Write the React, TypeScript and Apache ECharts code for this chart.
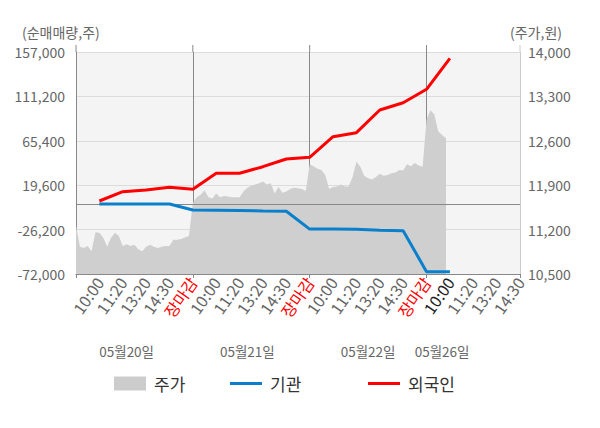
import React, { useEffect, useRef } from 'react';
import * as echarts from 'echarts';

// ---- data ----
const slotLabels = ['10:00', '11:20', '13:20', '14:30', '장마감'];
const dayLabels = ['05월20일', '05월21일', '05월22일', '05월26일'];
const seriesNames = ['주가', '기관', '외국인'];

// price (원), sampled 6 points per label slot
const priceDay1 = [11260, 10930, 10910, 10940, 10860, 11160, 11150, 11070, 10930, 11070, 11150, 11100, 10940, 10970, 10940, 10960, 10890, 10860, 10930, 10960, 10930, 10910, 10930, 10940, 10940, 11040, 11040, 11050, 11080, 11100];
const priceDay2 = [11620, 11710, 11750, 11820, 11710, 11690, 11770, 11710, 11730, 11720, 11710, 11710, 11710, 11800, 11860, 11890, 11910, 11930, 11960, 11910, 11930, 11770, 11870, 11780, 11800, 11840, 11860, 11850, 11840, 11810];
const priceDay3 = [12230, 12200, 12160, 12140, 12060, 11840, 11870, 11880, 11910, 11880, 11880, 12030, 12270, 12190, 12050, 12010, 11990, 12030, 12080, 12050, 12060, 12090, 12100, 12140, 12130, 12230, 12200, 12250, 12210, 12190];
const priceDay4 = [12930, 13080, 13020, 12750, 12690, 12640];

// cumulative net buying (주), one value per label slot from day-1 10:00
const foreignNet = [3300, 12900, 14600, 17600, 15400, 31900, 31900, 38700, 46600, 48400, 69600, 73800, 97200, 104700, 118500, 150500];
const instNet = [300, 300, 300, 200, -6000, -6300, -6600, -7000, -7300, -25700, -25700, -25800, -26900, -27300, -69600, -69600];

const leftMin = -72000;
const leftMax = 157000;
const leftInterval = 45800;
const rightMin = 10500;
const rightMax = 14000;
const rightInterval = 700;

// ---- derived ----
const PTS = 6;
const SLOTS_PER_DAY = 5;
const TOTAL_SLOTS = 19;
const N = TOTAL_SLOTS * PTS + 1;
const categories = Array.from({ length: N }, (_, i) => String(i));
const priceAll: (number | null)[] = [...priceDay1, ...priceDay2, ...priceDay3, ...priceDay4];
while (priceAll.length < N) priceAll.push(null);
const toSlotSeries = (vals: number[]) => {
  const arr: (number | null)[] = new Array(N).fill(null);
  vals.forEach((v, j) => { arr[(j + 1) * PTS] = v; });
  return arr;
};
const foreignData = toSlotSeries(foreignNet);
const instData = toSlotSeries(instNet);
const dayLen = PTS * SLOTS_PER_DAY;
const dateLabelIdx = [13, 44, 75, 94];

const FONT = '"Noto Sans CJK KR", "Noto Sans", sans-serif';

const slotLabelOf = (i: number) => {
  if (i === 0 || i % PTS !== 0) return '';
  const s = i / PTS;
  return slotLabels[(s - 1) % SLOTS_PER_DAY];
};

export default function App() {
  const ref = useRef<HTMLDivElement>(null);
  useEffect(() => {
    if (!ref.current) return;
    const chart = echarts.init(ref.current, undefined, { renderer: 'svg' });
    const legendBase = {
      top: 375,
      padding: 0,
      itemWidth: 32,
      textStyle: { fontSize: 17, color: '#333', fontFamily: FONT, padding: [0, 0, 0, 3] },
      selectedMode: false,
    };
    chart.setOption({
      animation: false,
      textStyle: { fontFamily: FONT },
      grid: {
        left: 76, right: 80, top: 52, bottom: 154,
        show: true, backgroundColor: '#f4f4f4', borderWidth: 0,
      },
      legend: [
        { ...legendBase, left: 114, itemHeight: 14, data: [{ name: seriesNames[0], icon: 'rect' }] },
        { ...legendBase, left: 230, itemHeight: 3, data: [{ name: seriesNames[1], icon: 'rect' }] },
        { ...legendBase, left: 368, itemHeight: 3, data: [{ name: seriesNames[2], icon: 'rect' }] },
      ],
      xAxis: [
        {
          type: 'category',
          data: categories,
          boundaryGap: false,
          axisLine: { onZero: false, lineStyle: { color: '#888' } },
          axisTick: {
            show: true, length: 4, lineStyle: { color: '#888' },
            interval: (i: number) => i % dayLen === 0 || i === N - 1,
          },
          splitLine: {
            show: true, lineStyle: { color: '#888', width: 1 },
            interval: (i: number) => i % dayLen === 0 && i > 0 && i < N - 1,
          },
          axisLabel: {
            interval: (i: number) => slotLabelOf(i) !== '',
            formatter: (v: string) => slotLabelOf(Number(v)),
            rotate: 55,
            margin: 5,
            fontSize: 16,
            fontFamily: FONT,
            color: (v: string) => {
              const i = Number(v);
              const lab = slotLabelOf(i);
              if (lab === slotLabels[4]) return '#ff0000';
              if (i === 3 * dayLen + PTS) return '#222';
              return '#666';
            },
          },
        },
        {
          type: 'category',
          data: categories,
          boundaryGap: false,
          position: 'bottom',
          axisLine: { show: false },
          axisTick: { show: false },
          splitLine: { show: false },
          axisLabel: {
            interval: (i: number) => dateLabelIdx.includes(i),
            formatter: (v: string) => {
              const k = dateLabelIdx.indexOf(Number(v));
              return k >= 0 ? dayLabels[k] : '';
            },
            margin: 70,
            fontSize: 13.5,
            color: '#666',
            fontFamily: FONT,
          },
        },
      ],
      yAxis: [
        {
          type: 'value',
          min: leftMin, max: leftMax, interval: leftInterval,
          axisLine: { show: true, lineStyle: { color: '#888' } },
          axisTick: { show: false },
          splitLine: { show: true, lineStyle: { color: '#dcdcdc', width: 1 } },
          axisLabel: {
            margin: 11, fontSize: 14, color: '#666', fontFamily: FONT,
            formatter: (v: number) => v.toLocaleString('en-US'),
          },
        },
        {
          type: 'value',
          min: rightMin, max: rightMax, interval: rightInterval,
          axisLine: { show: true, lineStyle: { color: '#cccccc' } },
          axisTick: { show: false },
          splitLine: { show: false },
          axisLabel: {
            margin: 8, fontSize: 14, color: '#666', fontFamily: FONT,
            formatter: (v: number) => v.toLocaleString('en-US'),
          },
        },
      ],
      series: [
        {
          name: seriesNames[0],
          type: 'line',
          xAxisIndex: 0,
          yAxisIndex: 1,
          data: priceAll,
          showSymbol: false,
          symbol: 'none',
          lineStyle: { width: 0, color: '#cccccc' },
          itemStyle: { color: '#cccccc' },
          areaStyle: { color: '#cfcfcf', opacity: 1 },
          z: 1,
        },
        {
          name: seriesNames[1],
          type: 'line',
          xAxisIndex: 0,
          yAxisIndex: 0,
          data: instData,
          connectNulls: true,
          showSymbol: false,
          symbol: 'none',
          lineStyle: { width: 3, color: '#0a80cc' },
          itemStyle: { color: '#0a80cc' },
          markLine: {
            silent: true,
            symbol: 'none',
            label: { show: false },
            lineStyle: { color: '#888', width: 1, type: 'solid' },
            data: [{ yAxis: 0 }],
            z: 2,
          },
          z: 3,
        },
        {
          name: seriesNames[2],
          type: 'line',
          xAxisIndex: 0,
          yAxisIndex: 0,
          data: foreignData,
          connectNulls: true,
          showSymbol: false,
          symbol: 'none',
          lineStyle: { width: 3, color: '#ff0000' },
          itemStyle: { color: '#ff0000' },
          z: 4,
        },
      ],
    });

    // extension of vertical lines above the plot area, positioned from the axes
    const topY = chart.convertToPixel({ yAxisIndex: 0 }, leftMax) as number;
    const ext = 7;
    const vIdx = [0, dayLen, 2 * dayLen, 3 * dayLen];
    const lines: any[] = vIdx.map((i) => {
      const x = chart.convertToPixel({ xAxisIndex: 0 }, i) as number;
      return {
        type: 'line', silent: true,
        shape: { x1: x, y1: topY - ext, x2: x, y2: topY },
        style: { stroke: '#888', lineWidth: 1 },
      };
    });
    const xr = chart.convertToPixel({ xAxisIndex: 0 }, N - 1) as number;
    lines.push({
      type: 'line', silent: true,
      shape: { x1: xr, y1: topY - ext, x2: xr, y2: topY },
      style: { stroke: '#cccccc', lineWidth: 1 },
    });
    chart.setOption({
      graphic: [
        {
          type: 'text', left: 22, top: 25,
          style: { text: '(순매매량,주)', fill: '#666', font: `14px ${FONT}` },
        },
        {
          type: 'text', right: 38, top: 25,
          style: { text: '(주가,원)', fill: '#666', font: `14px ${FONT}` },
        },
        ...lines,
      ],
    });

    return () => chart.dispose();
  }, []);
  return <div ref={ref} style={{ width: 600, height: 428, margin: -8 }} />;
}
